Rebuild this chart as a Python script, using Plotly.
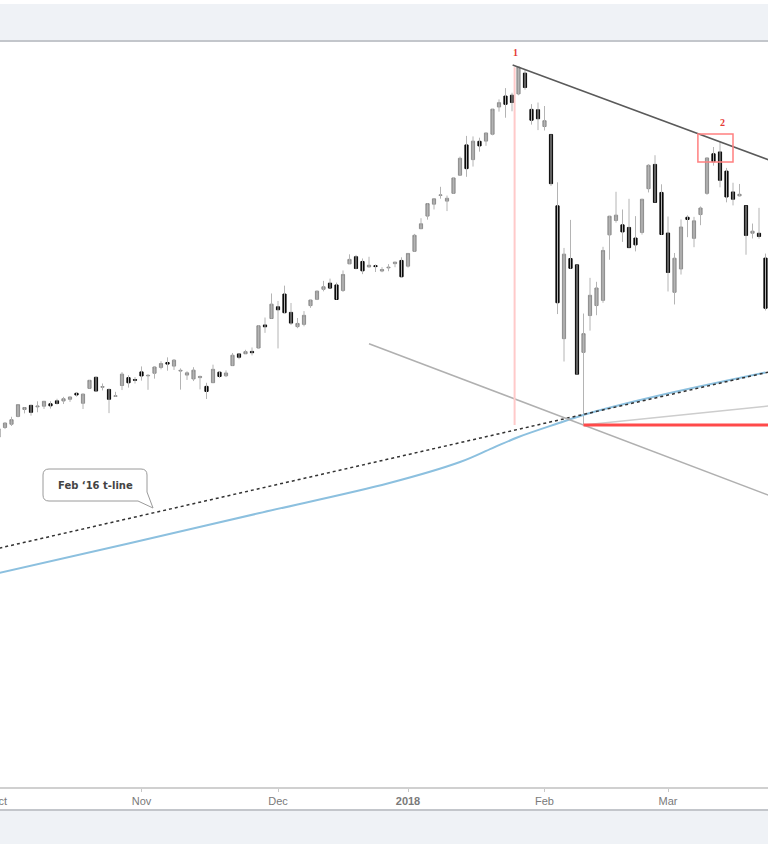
import plotly.graph_objects as go
import pandas as pd

# ---------------- data ----------------
holidays = ["2017-11-23", "2017-12-25", "2018-01-01", "2018-01-15", "2018-02-19"]
dates = [d.strftime("%Y-%m-%d") for d in pd.bdate_range("2017-10-02", "2018-03-22")
         if d.strftime("%Y-%m-%d") not in holidays]

opens = [
    2521.20, 2530.34, 2533.48, 2540.86, 2547.44, 2551.39, 2549.99, 2550.62, 2552.88, 2555.66,
    2555.57, 2557.17, 2562.87, 2553.39, 2567.56, 2578.08, 2568.66, 2566.52, 2560.08, 2570.26,
    2577.75, 2575.99,
    2583.21, 2579.46, 2581.93, 2587.47, 2592.11, 2588.71, 2584.00, 2580.18, 2576.53, 2577.75,
    2569.45, 2572.95, 2582.94, 2579.49, 2589.17, 2600.31, 2600.42, 2602.66, 2605.94, 2627.82,
    2633.93,
    2645.10, 2657.19, 2639.78, 2626.24, 2628.38, 2646.21, 2652.19, 2661.73, 2667.59, 2665.87,
    2660.63, 2685.92, 2692.71, 2688.18, 2683.02, 2684.22, 2679.09, 2682.10, 2686.10, 2689.15,
    2683.73, 2697.85, 2719.31, 2731.33, 2742.67, 2751.15, 2745.55, 2752.97, 2770.18, 2798.96,
    2784.99, 2802.40, 2802.60, 2809.16, 2835.05, 2845.42, 2846.24, 2847.48, 2867.23, 2832.74,
    2832.41,
    2816.45, 2808.92, 2741.06, 2614.78, 2690.95, 2685.01, 2601.78, 2636.75, 2646.27, 2651.21,
    2713.46, 2727.14, 2722.99, 2720.53, 2710.42, 2715.80, 2757.37, 2780.45, 2753.78,
    2715.22, 2658.89, 2681.06, 2730.18, 2710.18, 2732.75, 2752.91, 2790.54, 2792.31, 2774.06,
    2754.27, 2750.57, 2741.38, 2715.05, 2714.99, 2691.36]

highs = [
    2529.23, 2535.13, 2540.53, 2552.51, 2549.41, 2551.82, 2555.23, 2555.24, 2555.33, 2557.65,
    2559.47, 2559.71, 2564.11, 2562.36, 2575.44, 2578.29, 2572.18, 2567.40, 2564.24, 2582.98,
    2580.03, 2578.29,
    2588.40, 2581.11, 2588.42, 2593.38, 2597.02, 2595.47, 2586.50, 2583.81, 2587.66, 2579.66,
    2572.84, 2590.09, 2583.96, 2584.64, 2601.19, 2600.94, 2604.21, 2606.41, 2627.69, 2634.89,
    2657.74,
    2650.62, 2665.19, 2648.72, 2634.41, 2640.99, 2651.65, 2660.33, 2669.72, 2671.88, 2668.09,
    2679.63, 2694.97, 2694.44, 2691.01, 2692.64, 2685.35, 2682.74, 2685.64, 2687.66, 2692.12,
    2695.89, 2714.37, 2729.29, 2743.45, 2748.51, 2759.14, 2750.80, 2767.56, 2787.85, 2807.54,
    2807.04, 2805.83, 2810.33, 2833.03, 2842.24, 2852.97, 2848.56, 2872.87, 2870.62, 2837.75,
    2839.26,
    2835.96, 2808.92, 2763.39, 2701.04, 2727.67, 2685.27, 2638.67, 2672.61, 2668.84, 2702.10,
    2731.51, 2754.42, 2737.60, 2747.75, 2731.26, 2747.76, 2780.64, 2789.15, 2761.52,
    2730.89, 2696.25, 2728.09, 2732.08, 2730.60, 2740.45, 2786.57, 2796.98, 2801.90, 2777.11,
    2763.03, 2761.85, 2741.38, 2724.22, 2739.14, 2695.68]

lows = [
    2520.40, 2528.85, 2531.80, 2540.02, 2543.79, 2541.60, 2544.86, 2547.95, 2548.31, 2552.09,
    2552.64, 2554.69, 2559.67, 2547.92, 2567.56, 2564.33, 2565.58, 2544.00, 2559.35, 2565.94,
    2568.25, 2572.15,
    2574.92, 2566.17, 2576.77, 2585.66, 2584.35, 2585.02, 2566.33, 2575.57, 2574.48, 2566.56,
    2557.45, 2572.95, 2577.62, 2578.24, 2589.17, 2595.23, 2600.42, 2598.87, 2605.44, 2620.32,
    2633.93,
    2605.52, 2639.03, 2627.73, 2624.75, 2626.53, 2644.10, 2651.47, 2659.78, 2662.85, 2652.01,
    2659.14, 2685.92, 2680.74, 2676.11, 2682.40, 2678.13, 2677.96, 2678.91, 2682.69, 2673.61,
    2682.36, 2697.77, 2719.07, 2727.92, 2737.60, 2747.86, 2736.06, 2752.78, 2769.64, 2768.64,
    2778.38, 2792.56, 2798.08, 2808.12, 2830.59, 2824.81, 2830.94, 2846.18, 2851.48, 2818.27,
    2813.04,
    2812.70, 2759.97, 2638.17, 2593.07, 2681.33, 2580.56, 2532.69, 2622.45, 2637.08, 2648.87,
    2689.82, 2725.11, 2706.76, 2701.29, 2697.77, 2713.74, 2753.78, 2744.22, 2713.54,
    2659.65, 2647.32, 2675.75, 2711.26, 2701.74, 2722.65, 2751.54, 2779.26, 2758.68, 2744.38,
    2741.47, 2749.97, 2694.59, 2710.05, 2709.79, 2641.59]

closes = [
    2529.12, 2534.58, 2537.74, 2552.07, 2549.33, 2544.73, 2550.64, 2555.24, 2550.93, 2553.17,
    2557.64, 2559.36, 2561.26, 2562.10, 2575.21, 2564.98, 2569.13, 2557.15, 2560.40, 2581.07,
    2572.83, 2575.26,
    2579.36, 2579.85, 2587.84, 2591.13, 2590.64, 2594.38, 2584.62, 2582.30, 2584.84, 2578.87,
    2564.62, 2585.64, 2578.85, 2582.14, 2599.03, 2597.08, 2602.42, 2601.42, 2627.04, 2626.07,
    2647.58,
    2642.22, 2639.44, 2629.57, 2629.27, 2636.98, 2651.50, 2659.99, 2664.11, 2662.85, 2652.01,
    2675.81, 2690.16, 2681.47, 2679.25, 2684.57, 2683.34, 2680.50, 2682.62, 2687.54, 2673.61,
    2695.81, 2713.06, 2723.99, 2743.15, 2747.71, 2751.29, 2748.23, 2767.56, 2786.24, 2776.42,
    2802.56, 2798.03, 2810.30, 2832.97, 2839.13, 2837.54, 2839.25, 2872.87, 2853.53, 2822.43,
    2823.81,
    2821.98, 2762.13, 2648.94, 2695.14, 2681.66, 2581.00, 2619.55, 2656.00, 2662.94, 2698.63,
    2731.20, 2732.22, 2716.26, 2701.33, 2703.96, 2747.30, 2779.60, 2744.28, 2713.83,
    2677.67, 2691.25, 2720.94, 2728.12, 2726.80, 2738.97, 2786.57, 2783.02, 2765.31, 2749.48,
    2747.33, 2752.01, 2712.92, 2716.94, 2711.93, 2643.69]

# moving average (blue), read at sample dates
ma_dates = ["2017-10-02", "2017-10-30", "2017-11-28", "2017-12-27", "2018-01-12", "2018-01-22",
            "2018-01-26", "2018-02-05", "2018-02-12", "2018-02-27", "2018-03-22"]
ma_values = [2392.0, 2420.0, 2448.8, 2477.3, 2497.5, 2510.8, 2521.3, 2534.1, 2544.1, 2559.8, 2582.6]

# Feb '16 trend line anchors
tline_dates = ["2017-10-02", "2018-03-22"]
tline_values = [2415.5, 2582.4]

# other drawn lines
peak_date, peak2_date, low_date = "2018-01-26", "2018-03-13", "2018-02-09"
desc_start_date, desc_start_value = "2017-12-21", 2610.0
rise_end_date, rise_end_value = "2018-03-22", 2550.5

tick_months = ["2017-10", "2017-11", "2017-12", "2018-01", "2018-02", "2018-03"]
tick_labels = ["Oct", "Nov", "Dec", "<b>2018</b>", "Feb", "Mar"]

# ---------------- helpers ----------------
idx = {d: i for i, d in enumerate(dates)}
xs = list(range(len(dates)))
X0, X1 = 0.2308, 118.385          # visible trading-day window
Y0, Y1 = 2188.6, 2896.8
PX_PER_DAY = 768.0 / (X1 - X0)


def extend(p, q, x_end):
    (xa, ya), (xb, yb) = p, q
    return ya + (yb - ya) * (x_end - xa) / (xb - xa)


first_idx = [min(i for i, d in enumerate(dates) if d.startswith(m)) for m in tick_months]

fig = go.Figure()

# wicks
wx, wy = [], []
for i in xs:
    wx += [i, i, None]
    wy += [lows[i], highs[i], None]
fig.add_trace(go.Scatter(x=wx, y=wy, mode="lines", line=dict(color="#b4b4b4", width=1),
                         hoverinfo="skip"))

# bodies
body_hi = [max(o, c) for o, c in zip(opens, closes)]
body_lo = [min(o, c) for o, c in zip(opens, closes)]
fig.add_trace(go.Candlestick(
    x=xs, open=opens, high=body_hi, low=body_lo, close=closes,
    increasing=dict(line=dict(color="#8d8d8d", width=1), fillcolor="#a5a5a5"),
    decreasing=dict(line=dict(color="#0a0a0a", width=1), fillcolor="#0a0a0a"),
    whiskerwidth=0, hoverinfo="skip"))

# moving average
fig.add_trace(go.Scatter(x=[idx[d] for d in ma_dates], y=ma_values, mode="lines",
                         line=dict(color="#8cc0df", width=2, shape="spline"), hoverinfo="skip"))

# Feb '16 t-line (dotted)
tp = (idx[tline_dates[0]], tline_values[0])
tq = (idx[tline_dates[1]], tline_values[1])
fig.add_trace(go.Scatter(x=[X0 - 1, X1 + 1], y=[extend(tp, tq, X0 - 1), extend(tp, tq, X1 + 1)],
                         mode="lines", line=dict(color="#333333", width=1.5, dash="dot"),
                         hoverinfo="skip"))

i_peak, i_peak2, i_low = idx[peak_date], idx[peak2_date], idx[low_date]
p_peak, p_peak2, p_low = highs[i_peak], highs[i_peak2], lows[i_low]

# descending line through the Feb low
dp = (idx[desc_start_date], desc_start_value)
dq = (i_low, p_low)
fig.add_trace(go.Scatter(x=[dp[0], X1 + 1], y=[dp[1], extend(dp, dq, X1 + 1)], mode="lines",
                         line=dict(color="#b0b0b0", width=1.5), hoverinfo="skip"))

# rising light line from the Feb low
rq = (idx[rise_end_date], rise_end_value)
fig.add_trace(go.Scatter(x=[i_low, X1 + 1], y=[p_low, extend((i_low, p_low), rq, X1 + 1)],
                         mode="lines", line=dict(color="#cdcdcd", width=1.5), hoverinfo="skip"))

# top trend line (peak 1 -> peak 2)
fig.add_trace(go.Scatter(x=[i_peak - 0.9, X1 + 1],
                         y=[extend((i_peak, p_peak), (i_peak2, p_peak2), i_peak - 0.9),
                            extend((i_peak, p_peak), (i_peak2, p_peak2), X1 + 1)],
                         mode="lines", line=dict(color="#5a5a5a", width=1.5), hoverinfo="skip"))

# red horizontal at Feb low
fig.add_trace(go.Scatter(x=[i_low, X1 + 1], y=[p_low, p_low], mode="lines",
                         line=dict(color="#ff4a4a", width=3), hoverinfo="skip"))

# pink vertical at peak
fig.add_trace(go.Scatter(x=[i_peak - 0.6, i_peak - 0.6], y=[p_low, p_peak], mode="lines",
                         line=dict(color="#ffcaca", width=2), hoverinfo="skip"))

# ---------------- layout decorations ----------------
H_PLOT = 745.0


def pyy(y):
    return (787 - y) / H_PLOT


def pxx(x):
    return x / 768.0


shapes = [
    dict(type="rect", xref="paper", yref="paper", x0=0, x1=1, y0=pyy(4), y1=pyy(0),
         fillcolor="white", line=dict(width=0), layer="below"),
    dict(type="line", xref="paper", yref="paper", x0=0, x1=1, y0=pyy(41), y1=pyy(41),
         line=dict(color="#c3c6cb", width=2)),
    dict(type="rect", xref="paper", yref="paper", x0=0, x1=1, y0=pyy(809), y1=0,
         fillcolor="white", line=dict(width=0), layer="below"),
    dict(type="line", xref="paper", yref="paper", x0=0, x1=1, y0=pyy(810), y1=pyy(810),
         line=dict(color="#c3c6cb", width=2)),
    # red box round peak 2
    dict(type="rect", xref="x", yref="y", x0=i_peak2 - 3.4, x1=i_peak2 + 2.0,
         y0=2782.7, y1=2809.3, line=dict(color="#ff8080", width=1.5)),
]

# callout bubble
L, R, T, B, r = 43, 147, 469, 501, 6
pts = (f"M {pxx(L + r)},{pyy(T)} L {pxx(R - r)},{pyy(T)} Q {pxx(R)},{pyy(T)} {pxx(R)},{pyy(T + r)} "
       f"L {pxx(R)},{pyy(492)} L {pxx(153)},{pyy(508)} L {pxx(138)},{pyy(B)} "
       f"L {pxx(L + r)},{pyy(B)} Q {pxx(L)},{pyy(B)} {pxx(L)},{pyy(B - r)} "
       f"L {pxx(L)},{pyy(T + r)} Q {pxx(L)},{pyy(T)} {pxx(L + r)},{pyy(T)} Z")
shapes.append(dict(type="path", xref="paper", yref="paper", path=pts,
                   fillcolor="white", line=dict(color="#9a9a9a", width=1)))

tick_font = dict(color="#7a7a7a", size=11, family="Liberation Sans")
annotations = [
    dict(x=i_peak - 0.5, y=2887, xref="x", yref="y", text="<b>1</b>", showarrow=False,
         font=dict(color="#e53935", size=10, family="Liberation Serif")),
    dict(x=i_peak2 + 0.4, y=2820.7, xref="x", yref="y", text="<b>2</b>", showarrow=False,
         font=dict(color="#e53935", size=10, family="Liberation Serif")),
    dict(x=pxx(95), y=pyy(485), xref="paper", yref="paper", text="<b>Feb \u201816 t-line</b>",
         showarrow=False, xanchor="center", yanchor="middle",
         font=dict(color="#444444", size=10, family="DejaVu Sans")),
    # first month label sits half outside the visible window
    dict(x=(first_idx[0] - X0) * PX_PER_DAY / 768.0, y=pyy(801), xref="paper", yref="paper",
         text=tick_labels[0], showarrow=False, xanchor="center", yanchor="middle",
         font=tick_font),
]

fig.update_layout(
    width=768, height=844,
    margin=dict(l=0, r=0, t=42, b=57),
    paper_bgcolor="#eff2f6", plot_bgcolor="white",
    showlegend=False,
    xaxis=dict(range=[X0, X1], tickvals=first_idx[1:], ticktext=tick_labels[1:],
               ticks="outside", ticklen=3, tickcolor="#c8c8c8", showline=True,
               linecolor="#d0d0d0", linewidth=2, showgrid=False, zeroline=False,
               rangeslider=dict(visible=False), tickfont=tick_font),
    yaxis=dict(range=[Y0, Y1], visible=False, showgrid=False, zeroline=False),
    shapes=shapes, annotations=annotations,
)

fig.write_html("out.html")
